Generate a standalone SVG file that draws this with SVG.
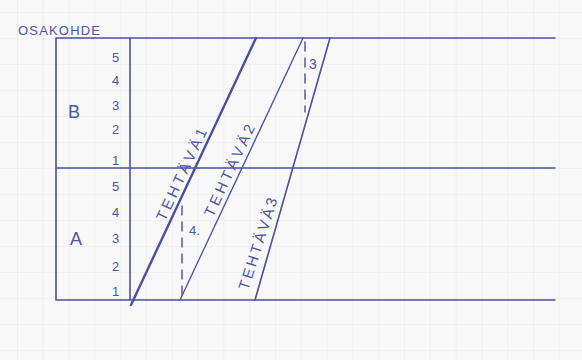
<svg xmlns="http://www.w3.org/2000/svg" width="582" height="360" viewBox="0 0 582 360">
<defs>
<pattern id="grid" x="17" y="12" width="25.8" height="26" patternUnits="userSpaceOnUse">
<path d="M0 0 H25.8 M0 0 V26" fill="none" stroke="#e6e8ef" stroke-width="1"/>
</pattern>
</defs>
<style>
.ink{stroke:#4a4f9e;fill:none;stroke-linecap:round}
.t{fill:#4e53a3;font-family:"Liberation Sans",Arial,sans-serif}
.num{font-size:13px}
.lbl{font-size:15px}
.dash{stroke-dasharray:9 7}
</style>
<rect width="582" height="360" fill="#f8f8f9"/>
<rect width="582" height="360" fill="url(#grid)"/>
<g id="frame">
<path class="ink" stroke-width="1.6" d="M56 38 H555 M56 168 H555 M56 300 H555 M56 38 V300 M130 38 V300"/>
</g>
<g id="title"><text class="t" x="18" y="35" font-size="13" textLength="82">OSAKOHDE</text></g>
<g id="B">
<text class="t" x="68" y="118" font-size="18">B</text>
<text class="t num" x="112" y="62">5</text>
<text class="t num" x="112" y="85">4</text>
<text class="t num" x="112" y="110">3</text>
<text class="t num" x="112" y="134">2</text>
<text class="t num" x="112" y="165">1</text>
</g>
<g id="A">
<text class="t" x="70" y="245" font-size="18">A</text>
<text class="t num" x="112" y="191">5</text>
<text class="t num" x="112" y="217">4</text>
<text class="t num" x="112" y="243">3</text>
<text class="t num" x="112" y="271">2</text>
<text class="t num" x="112" y="296">1</text>
</g>
<g id="connectors">
<line id="tehtava1-line" class="ink" stroke-width="2.4" x1="131" y1="305" x2="256" y2="38"/>
<line id="tehtava2-line" class="ink" stroke-width="1.3" x1="180" y1="300" x2="303" y2="38"/>
<line id="tehtava3-line" class="ink" stroke-width="1.6" x1="255" y1="300" x2="330" y2="38"/>
<line class="ink dash" stroke-width="1.4" x1="182" y1="206" x2="182" y2="296"/>
<line class="ink dash" stroke-width="1.4" x1="305" y1="42" x2="305" y2="112"/>
</g>
<g id="tehtava1"><text class="t lbl" textLength="100" transform="translate(165 222) rotate(-65)">TEHTÄVÄ1</text></g>
<g id="tehtava2"><text class="t lbl" textLength="100" transform="translate(213 218) rotate(-65)">TEHTÄVÄ2</text></g>
<g id="tehtava3"><text class="t lbl" textLength="96" transform="translate(248 291) rotate(-72)">TEHTÄVÄ3</text></g>
<g id="label4"><text class="t" x="189" y="235" font-size="13">4.</text></g>
<g id="label3"><text class="t" x="309" y="69" font-size="14">3</text></g>
</svg>
